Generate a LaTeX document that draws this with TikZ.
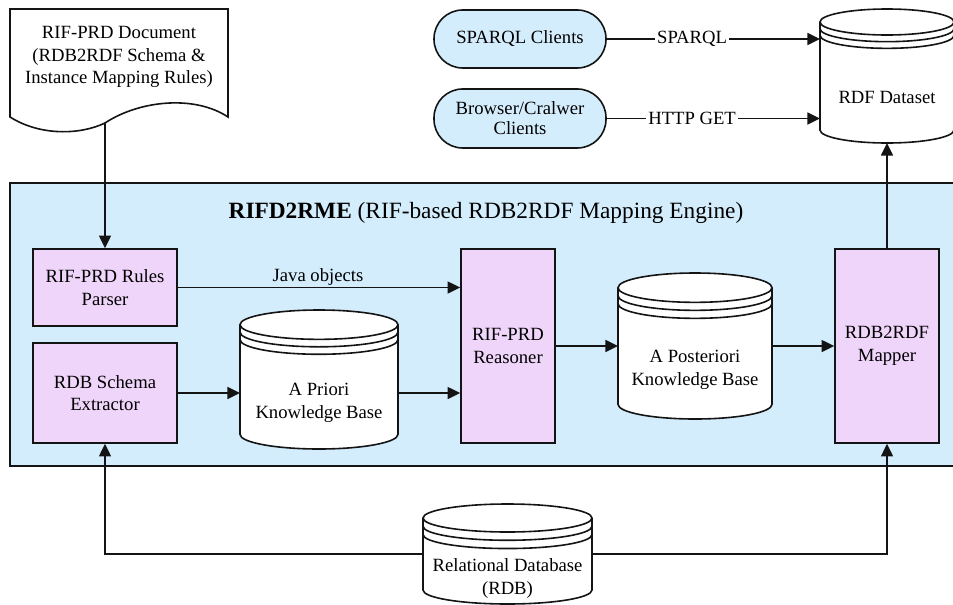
\documentclass[tikz,border=0pt]{standalone}
\usepackage{fontspec}
\setmainfont{Liberation Serif}[Ligatures=TeX]
\newfontfamily\diagfont{Liberation Serif}
\usetikzlibrary{arrows.meta,calc}

\definecolor{enginebg}{RGB}{212,237,252}
\definecolor{modfill}{RGB}{240,213,250}
\definecolor{inkline}{RGB}{20,20,20}

% Database cylinder drawn around an (empty) node:
% #1 node name, #2 half-height of the cap (pt), #3 gap between rims (pt)
\newcommand\dbcyl[3]{%
  \path[dbline] let \p1=(#1.north west), \p2=(#1.south east),
      \n1={(\x2-\x1)/2} in
    (\x1,{\y1-#2pt}) -- (\x1,{\y2+#2pt})
      arc[start angle=180,end angle=360,x radius=\n1,y radius=#2pt]
      -- (\x2,{\y1-#2pt})
      arc[start angle=0,end angle=180,x radius=\n1,y radius=#2pt] -- cycle
    ({\x1+\n1},{\y1-#2pt}) ellipse[x radius=\n1,y radius=#2pt]
    (\x1,{\y1-#2pt-#3pt})
      arc[start angle=180,end angle=360,x radius=\n1,y radius=#2pt]
    (\x1,{\y1-#2pt-2*#3pt})
      arc[start angle=180,end angle=360,x radius=\n1,y radius=#2pt];
}

\begin{document}
\begin{tikzpicture}[x=0.75pt,y=-0.75pt,
  every node/.style={font=\diagfont\fontsize{14}{17}\selectfont, align=center, inner sep=0pt},
  module/.style={draw=inkline, line width=1.2pt, fill=modfill},
  client/.style={draw=inkline, line width=1.2pt, fill=enginebg, rounded corners=21.5pt},
  dbbody/.style={inner sep=0pt, outer sep=0pt},
  dbline/.style={draw=inkline, line width=1.2pt, fill=white},
  arr/.style={draw=inkline, line width=1.2pt, -{Triangle[length=9.5pt,width=9pt]}},
  lbl/.style={fill=white, inner xsep=1.5pt, inner ysep=1pt},
]
\useasboundingbox (0,0) rectangle (953,604);
\clip (0,0) rectangle (953,604);

% mapping engine container
\path[draw=inkline, line width=1.2pt, fill=enginebg] (10,183) rectangle (970,466);
\node[font=\diagfont\fontsize{17.5}{21}\selectfont] (title) at (486,213)
  {\textbf{RIFD2RME} (RIF-based RDB2RDF Mapping Engine)};

% rule document
\path[draw=inkline, line width=1.2pt, fill=white]
  (10,9) -- (10,117) .. controls (40,136) and (80,135) .. (105,123)
  .. controls (140,100) and (195,95) .. (228,117) -- (228,9) -- cycle;
\node (doc) at (119,57)
  {RIF-PRD Document\\(RDB2RDF Schema \&\\Instance Mapping Rules)};
\coordinate (docfoot) at (105,123);

% clients
\node[client, minimum width=129pt, minimum height=43.5pt] (sparql) at (520,39) {SPARQL Clients};
\node[client, minimum width=129pt, minimum height=44.25pt, font=\diagfont\fontsize{14}{15}\selectfont]
  (browser) at (520,118.5) {Browser/Cralwer\\Clients};

% engine modules
\node[module, minimum width=108pt, minimum height=57.75pt] (parser) at (105,287.5)
  {RIF-PRD Rules\\Parser};
\node[module, minimum width=108pt, minimum height=75pt] (extractor) at (105,393)
  {RDB Schema\\Extractor};
\node[module, minimum width=70.5pt, minimum height=145.5pt] (reasoner) at (508,346)
  {RIF-PRD\\Reasoner};
\node[module, minimum width=78pt, minimum height=145.5pt] (mapper) at (887,346)
  {RDB2RDF\\Mapper};

% data stores
\node[dbbody, minimum width=118.5pt, minimum height=104.25pt] (apriori) at (319,379.5) {};
\node[dbbody, minimum width=115.5pt, minimum height=109.5pt] (aposteriori) at (695,346) {};
\node[dbbody, minimum width=100.5pt, minimum height=100.5pt] (rdf) at (887,76) {};
\node[dbbody, minimum width=126.75pt, minimum height=75pt] (rdb) at (507.5,554) {};
\dbcyl{apriori}{11}{5.6}
\dbcyl{aposteriori}{11}{6}
\dbcyl{rdf}{9.75}{5}
\dbcyl{rdb}{10.5}{6.2}
\node (aprioritext) at (319,403) {A Priori\\Knowledge Base};
\node (aposterioritext) at (695,369.5) {A Posteriori\\Knowledge Base};
\node (rdftext) at (887,97) {RDF Dataset};
\node (rdbtext) at (507.5,578.5) {Relational Database\\(RDB)};

% connectors
\draw[arr] (docfoot) -- (parser.north);
\draw[arr] (parser.east) -- (parser.east -| reasoner.west);
\node (javalbl) at (318,277) {Java objects};
\draw[arr] (extractor.east) -- (extractor.east -| apriori.west);
\draw[arr] (apriori.east |- extractor.east) -- (reasoner.west |- extractor.east);
\draw[arr] (reasoner.east) -- (reasoner.east -| aposteriori.west);
\draw[arr] (aposteriori.east |- reasoner.east) -- (mapper.west);
\draw[arr] (mapper.north) -- (mapper.north |- rdf.south);
\draw[arr] (sparql.east) -- node[lbl, pos=0.4] (sparqllbl) {SPARQL} (sparql.east -| rdf.west);
\draw[arr] (browser.east) -- node[lbl, pos=0.4] (httplbl) {HTTP GET} (browser.east -| rdf.west);
\draw[arr] (rdb.west) -| (extractor.south);
\draw[arr] (rdb.east) -| (mapper.south);
\end{tikzpicture}
\end{document}
